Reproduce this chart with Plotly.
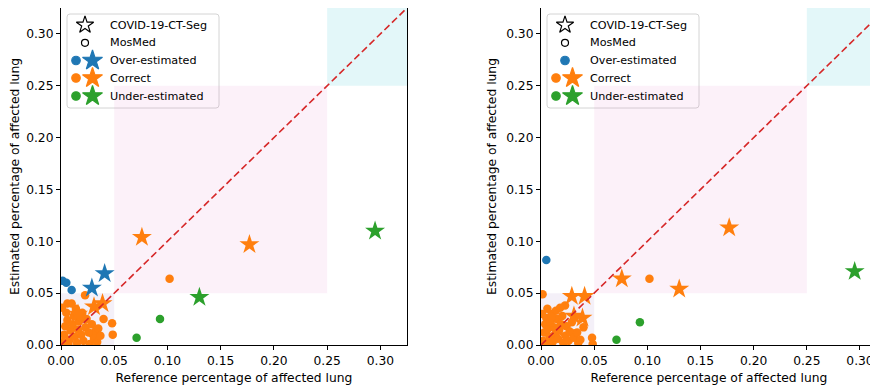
import plotly.graph_objects as go

# ---------------- data ----------------
# MosMed cases: reference fraction and estimates of two methods (left / right panel)
mosmed_ref = [0.0015, 0.005, 0.010, 0.071, 0.093, 0.102, 0.0226, 0.040, 0.048, 0.0486,
              0.030, 0.032, 0.006, 0.005, 0.002, 0.003, 0.004, 0.006, 0.008, 0.009,
              0.011, 0.012, 0.013, 0.015, 0.016, 0.017, 0.019, 0.020, 0.021, 0.023,
              0.024, 0.026, 0.027, 0.029, 0.031, 0.034, 0.035, 0.037, 0.001, 0.000,
              0.007, 0.014, 0.010, 0.018]
mosmed_est_a = [0.062, 0.060, 0.053, 0.007, 0.025, 0.064, 0.048, 0.025, 0.021, 0.010,
                0.010, 0.013, 0.040, 0.031, 0.003, 0.010, 0.018, 0.024, 0.005, 0.014,
                0.020, 0.028, 0.008, 0.002, 0.015, 0.023, 0.010, 0.031, 0.004, 0.017,
                0.025, 0.012, 0.001, 0.020, 0.006, 0.003, 0.016, 0.009, 0.036, 0.000,
                0.001, 0.035, 0.040, 0.027]
mosmed_est_b = [0.049, 0.082, 0.030, 0.005, 0.022, 0.064, 0.038, 0.017, 0.007, 0.001,
                0.011, 0.011, 0.035, 0.026, 0.004, 0.012, 0.020, 0.015, 0.008, 0.022,
                0.003, 0.017, 0.010, 0.025, 0.006, 0.014, 0.020, 0.028, 0.002, 0.009,
                0.018, 0.004, 0.013, 0.022, 0.007, 0.012, 0.002, 0.005, 0.030, 0.000,
                0.001, 0.033, 0.027, 0.036]

# COVID-19-CT-Seg cases
ctseg_ref = [0.016, 0.029, 0.031, 0.039, 0.041, 0.076, 0.130, 0.177, 0.295]
ctseg_est_a = [0.030, 0.055, 0.037, 0.040, 0.069, 0.104, 0.046, 0.097, 0.110]
ctseg_est_b = [0.015, 0.047, 0.028, 0.026, 0.047, 0.064, 0.054, 0.113, 0.071]

severity_edges = [0.05, 0.25]
categories = ["Over-estimated", "Correct", "Under-estimated"]
cat_colors = {"Over-estimated": "#1f77b4", "Correct": "#ff7f0e", "Under-estimated": "#2ca02c"}
region_colors = ["rgba(148,103,189,0.10)", "rgba(227,119,194,0.10)", "rgba(23,190,207,0.12)"]

ticks = [0.0, 0.05, 0.10, 0.15, 0.20, 0.25, 0.30]
x_max = [0.325, 0.316]
y_max = 0.325

# page body has an 8px margin; size the figure so it fits the 878x385 window
OFF = 8
W, H = 878 - OFF, 385 - OFF
FONT = "DejaVu Sans"
CIRCLE_SIZE = 8.5
STAR_SIZE = 15

# plot-area pixel boxes (window coordinates): left, right, top, bottom
panel_px = [(61, 407, 8, 345), (541, 877, 8, 345)]


def sev(v):
    return sum(v >= e for e in severity_edges)


def category(r, e):
    d = sev(e) - sev(r)
    return "Over-estimated" if d > 0 else ("Under-estimated" if d < 0 else "Correct")


def px_x(p):
    return (p - OFF) / W


def px_y(p):
    return 1 - (p - OFF) / H


fig = go.Figure()

panels = [("x", "y", mosmed_est_a, ctseg_est_a, x_max[0]),
          ("x2", "y2", mosmed_est_b, ctseg_est_b, x_max[1])]

legend_present = []
for xa, ya, m_est, c_est, xm in panels:
    present = set()
    for cat in categories:
        xs = [r for r, e in zip(mosmed_ref, m_est) if category(r, e) == cat]
        ys = [e for r, e in zip(mosmed_ref, m_est) if category(r, e) == cat]
        if xs:
            present.add(("c", cat))
        fig.add_trace(go.Scatter(x=xs, y=ys, mode="markers", xaxis=xa, yaxis=ya,
                                 marker=dict(symbol="circle", size=CIRCLE_SIZE, color=cat_colors[cat]),
                                 showlegend=False, cliponaxis=True))
    for cat in categories:
        xs = [r for r, e in zip(ctseg_ref, c_est) if category(r, e) == cat]
        ys = [e for r, e in zip(ctseg_ref, c_est) if category(r, e) == cat]
        if xs:
            present.add(("s", cat))
        fig.add_trace(go.Scatter(x=xs, y=ys, mode="markers", xaxis=xa, yaxis=ya,
                                 marker=dict(symbol="star", size=STAR_SIZE, color=cat_colors[cat]),
                                 showlegend=False, cliponaxis=True))
    fig.add_trace(go.Scatter(x=[0, max(xm, y_max)], y=[0, max(xm, y_max)], mode="lines",
                             xaxis=xa, yaxis=ya, showlegend=False,
                             line=dict(color="#d62728", width=1.6, dash="7px,3.5px")))
    legend_present.append(present)

    # severity regions
    bounds = [0.0] + severity_edges + [1.0]
    for i, col in enumerate(region_colors):
        fig.add_shape(type="rect", xref=xa, yref=ya, layer="below",
                      x0=bounds[i], x1=min(bounds[i + 1], xm),
                      y0=bounds[i], y1=min(bounds[i + 1], y_max),
                      fillcolor=col, line=dict(width=0))

# ---------------- manual legends ----------------
legend_rows = ["COVID-19-CT-Seg", "MosMed"] + categories
legend_left = [67, 547]
leg_top, leg_bottom, leg_w = 14, 108, 152
row_y = [25, 42.8, 60.5, 78, 96]

lx, ly, lsym, lcol, lsize = [], [], [], [], []
for p, left in enumerate(legend_left):
    xa, ya = panels[p][0], panels[p][1]
    pl, pr, pt, pb = panel_px[p]
    # legend frame: a shape in the panel's domain coordinates, below the marks
    r = 3
    x0 = (left - pl) / (pr - pl)
    x1 = (left + leg_w - pl) / (pr - pl)
    y1 = (pb - leg_top) / (pb - pt)
    y0 = (pb - leg_bottom) / (pb - pt)
    rx = r / (pr - pl)
    ry = r / (pb - pt)
    path = (f"M {x0+rx},{y1} L {x1-rx},{y1} Q {x1},{y1} {x1},{y1-ry} L {x1},{y0+ry} "
            f"Q {x1},{y0} {x1-rx},{y0} L {x0+rx},{y0} Q {x0},{y0} {x0},{y0+ry} "
            f"L {x0},{y1-ry} Q {x0},{y1} {x0+rx},{y1} Z")
    fig.add_shape(type="path", path=path, xref=f"{xa} domain", yref=f"{ya} domain", layer="below",
                  fillcolor="rgba(255,255,255,0.8)", line=dict(color="#d4d4d4", width=1))
    single_x = left + 18
    pair_x = (left + 9, left + 25.5)
    for i, name in enumerate(legend_rows):
        yy = row_y[i]
        if name == "COVID-19-CT-Seg":
            lx.append(single_x); ly.append(yy); lsym.append("star-open"); lcol.append("black"); lsize.append(13)
        elif name == "MosMed":
            lx.append(single_x); ly.append(yy); lsym.append("circle-open"); lcol.append("black"); lsize.append(7)
        else:
            has_c = ("c", name) in legend_present[p]
            has_s = ("s", name) in legend_present[p]
            if has_c and has_s:
                lx += [pair_x[0], pair_x[1]]; ly += [yy, yy]
                lsym += ["circle", "star"]; lcol += [cat_colors[name]] * 2; lsize += [CIRCLE_SIZE, STAR_SIZE]
            elif has_c:
                lx.append(single_x); ly.append(yy); lsym.append("circle"); lcol.append(cat_colors[name]); lsize.append(CIRCLE_SIZE)
            elif has_s:
                lx.append(single_x); ly.append(yy); lsym.append("star"); lcol.append(cat_colors[name]); lsize.append(STAR_SIZE)
        fig.add_annotation(x=left + 41, y=yy, xref="x3", yref="y3", text=name, showarrow=False,
                           xanchor="left", yanchor="middle", font=dict(family=FONT, size=11.2, color="black"))

fig.add_trace(go.Scatter(x=lx, y=ly, mode="markers", xaxis="x3", yaxis="y3", showlegend=False,
                         marker=dict(symbol=lsym, color=lcol, size=lsize, opacity=1,
                                     line=dict(color=lcol, width=1.2)),
                         hoverinfo="skip"))

# ---------------- axes ----------------
axis_common = dict(showline=True, mirror=True, linecolor="black", linewidth=1, ticks="outside",
                   ticklen=4, tickwidth=1, tickcolor="black", showgrid=False, zeroline=False,
                   tickvals=ticks, ticktext=[f"{t:.2f}" for t in ticks], automargin=False,
                   tickfont=dict(family=FONT, size=12.3, color="black"))
title_font = dict(family=FONT, size=12.3, color="black")
xt = "Reference percentage of affected lung"
yt = "Estimated percentage of affected lung"

fig.update_layout(
    width=W, height=H, margin=dict(l=0, r=0, t=0, b=0),
    paper_bgcolor="white", plot_bgcolor="rgba(0,0,0,0)", showlegend=False,
    xaxis=dict(domain=[px_x(61), px_x(407)], range=[0, x_max[0]], anchor="y",
               title=dict(text=xt, standoff=6, font=title_font), **axis_common),
    yaxis=dict(domain=[px_y(345), px_y(8)], range=[0, y_max], anchor="x",
               title=dict(text=yt, standoff=6, font=title_font), **axis_common),
    xaxis2=dict(domain=[px_x(541), px_x(877)], range=[0, x_max[1]], anchor="y2",
                title=dict(text=xt, standoff=6, font=title_font), **axis_common),
    yaxis2=dict(domain=[px_y(345), px_y(8)], range=[0, y_max], anchor="x2",
                title=dict(text=yt, standoff=6, font=title_font), **axis_common),
    xaxis3=dict(domain=[0, 1], range=[OFF, OFF + W], visible=False, anchor="y3", fixedrange=True),
    yaxis3=dict(domain=[0, 1], range=[OFF + H, OFF], visible=False, anchor="x3", fixedrange=True),
)

fig.write_html("out.html")
